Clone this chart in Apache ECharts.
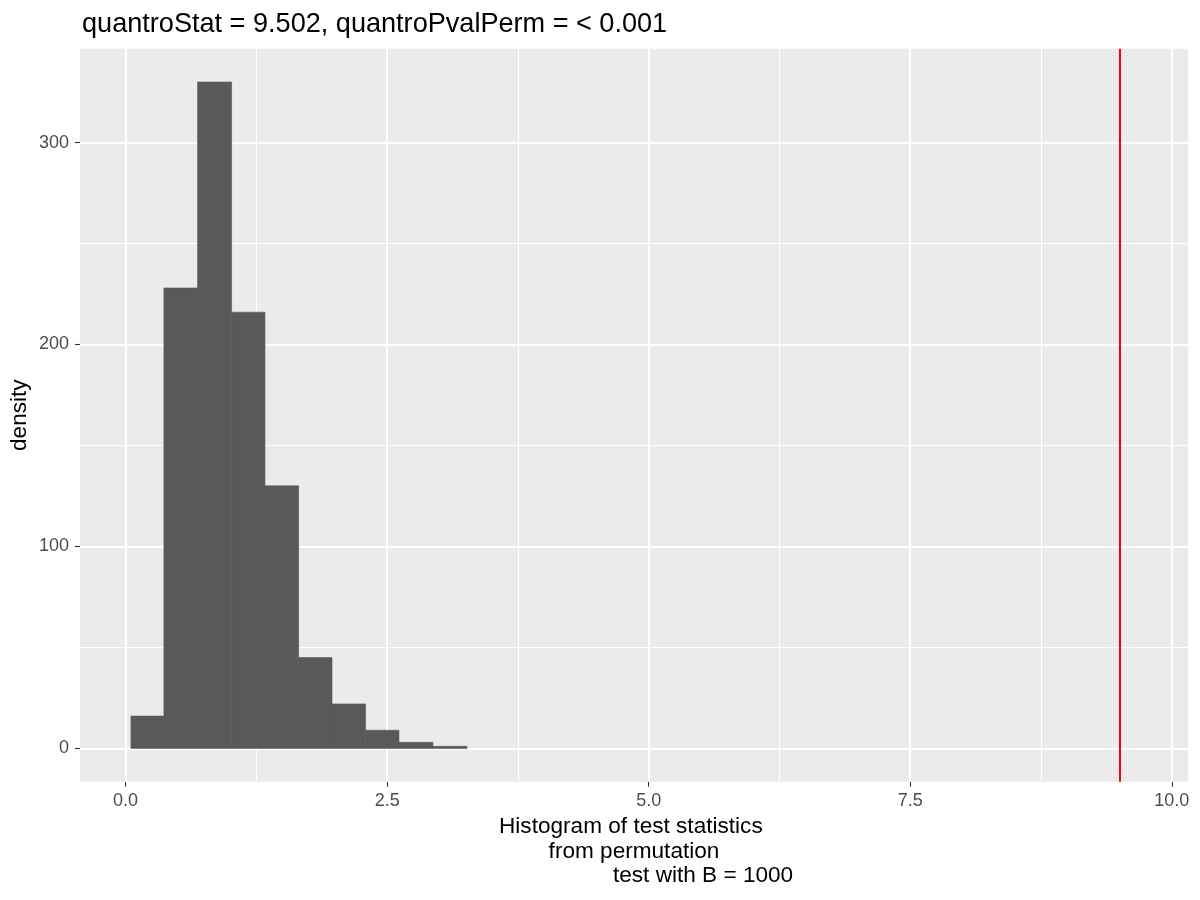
<!DOCTYPE html>
<html><head><meta charset="utf-8">
<script src="https://cdn.jsdelivr.net/npm/echarts@6/dist/echarts.min.js"></script>
<style>html,body{margin:0;padding:0;background:#fff}#c{width:1200px;height:900px}</style>
</head><body><div id="c"></div>
<script>
// Histogram bins (left/right edges) and bar heights
const binLeft  = [0.051, 0.366, 0.688, 1.013, 1.332, 1.654, 1.973, 2.294, 2.613, 2.938];
const binRight = [0.366, 0.688, 1.013, 1.332, 1.654, 1.973, 2.294, 2.613, 2.938, 3.263];
const density  = [16, 228, 330, 216, 130, 45, 22, 9, 3, 1];
const observedStat = 9.502;
const xMajorTicks = [0, 2.5, 5, 7.5, 10];
const xMinorTicks = [1.25, 3.75, 6.25, 8.75];
const yMajorTicks = [0, 100, 200, 300];
const yMinorTicks = [50, 150, 250];
const titleText = 'quantroStat = 9.502, quantroPvalPerm = < 0.001';
const xTitle = 'Histogram of test statistics \nfrom permutation\n                      test with B = 1000';
const yTitle = 'density';

const FONT = '"Liberation Sans", Arial, sans-serif';
const histData = binLeft.map((l, i) => [l, binRight[i], density[i]]);

const chart = echarts.init(document.getElementById('c'), null, {renderer: 'canvas'});
chart.setOption({
  animation: false,
  backgroundColor: '#FFFFFF',
  textStyle: {fontFamily: FONT},
  title: {
    text: titleText, left: 77, top: 6,
    textStyle: {fontFamily: FONT, fontSize: 27.1, fontWeight: 'normal', color: '#000000'}
  },
  grid: {
    left: 80, right: 12, top: 48.7, bottom: 118.3,
    outerBoundsMode: 'none', containLabel: false,
    show: true, backgroundColor: '#EBEBEB', borderWidth: 0
  },
  xAxis: {
    type: 'value', min: -0.436, max: 10.155,
    splitLine: {show: false},
    axisLine: {show: true, onZero: false, lineStyle: {color: 'rgba(0,0,0,0)', width: 0}},
    axisTick: {show: true, inside: false, customValues: xMajorTicks, length: 5, lineStyle: {color: '#333333', width: 1.1}},
    axisLabel: {customValues: xMajorTicks, formatter: v => v.toFixed(1), color: '#4D4D4D', fontSize: 18, margin: 10, fontFamily: FONT},
    name: xTitle, nameLocation: 'middle', nameGap: 32,
    nameTextStyle: {fontFamily: FONT, fontSize: 22.6, color: '#000000', lineHeight: 24.5, align: 'center'}
  },
  yAxis: {
    type: 'value', min: -16.5, max: 346.5,
    splitLine: {show: false},
    axisLine: {show: true, onZero: false, lineStyle: {color: 'rgba(0,0,0,0)', width: 0}},
    axisTick: {show: true, inside: false, customValues: yMajorTicks, length: 5, lineStyle: {color: '#333333', width: 1.1}},
    axisLabel: {customValues: yMajorTicks, color: '#4D4D4D', fontSize: 18, margin: 11, fontFamily: FONT},
    name: yTitle, nameLocation: 'middle', nameGap: 49, nameRotate: 90, nameMoveOverlap: false,
    nameTextStyle: {fontFamily: FONT, fontSize: 22.6, color: '#000000'}
  },
  series: [
    {
      type: 'line', data: [], z: 1, silent: true,
      markLine: {
        z: 1, silent: true, symbol: 'none', label: {show: false}, animation: false,
        data: [
          ...xMinorTicks.map(v => ({xAxis: v, lineStyle: {color: '#FFFFFF', width: 1, type: 'solid'}})),
          ...yMinorTicks.map(v => ({yAxis: v, lineStyle: {color: '#FFFFFF', width: 1, type: 'solid'}})),
          ...xMajorTicks.map(v => ({xAxis: v, lineStyle: {color: '#FFFFFF', width: 2, type: 'solid'}})),
          ...yMajorTicks.map(v => ({yAxis: v, lineStyle: {color: '#FFFFFF', width: 2, type: 'solid'}}))
        ]
      }
    },
    {
      type: 'custom', z: 3, silent: true,
      data: histData,
      encode: {x: [0, 1], y: 2},
      renderItem: function (params, api) {
        const p0 = api.coord([api.value(0), api.value(2)]);
        const p1 = api.coord([api.value(1), 0]);
        return {
          type: 'rect',
          shape: {x: p0[0], y: p0[1], width: p1[0] - p0[0], height: p1[1] - p0[1]},
          style: {fill: '#595959', stroke: '#595959', lineWidth: 0.6}
        };
      }
    },
    {
      type: 'line', data: [], z: 4, silent: true,
      markLine: {
        z: 6, silent: true, symbol: 'none', label: {show: false}, animation: false,
        data: [{xAxis: observedStat, lineStyle: {color: '#FF0000', width: 2, type: 'solid'}}]
      }
    }
  ]
});
</script></body></html>
